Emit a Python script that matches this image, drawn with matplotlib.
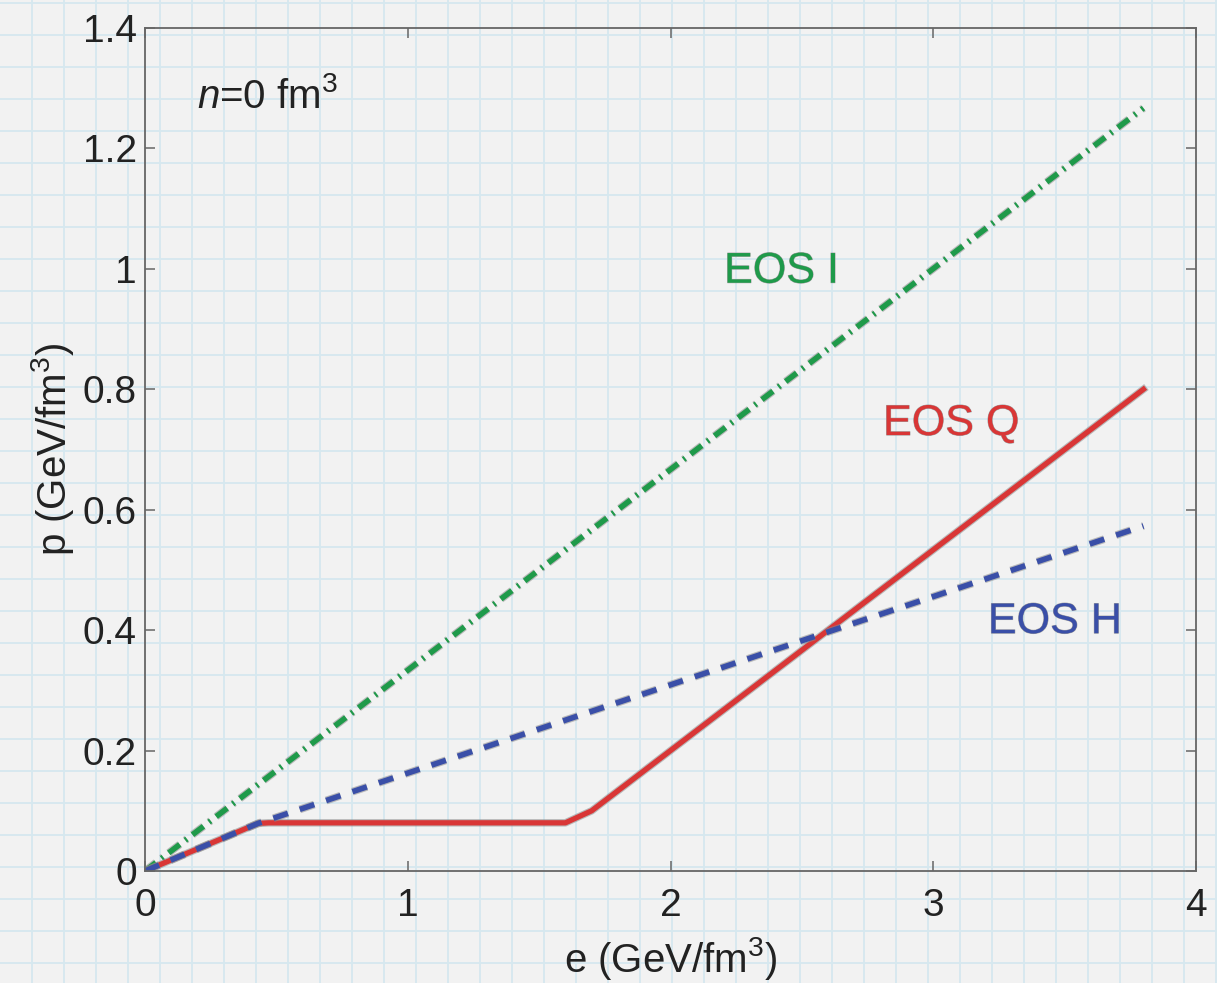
import matplotlib.pyplot as plt
import matplotlib.patheffects as pe

plt.rcParams['font.family'] = 'Liberation Sans'
plt.rcParams['mathtext.fontset'] = 'custom'
plt.rcParams['mathtext.rm'] = 'Liberation Sans'
plt.rcParams['mathtext.it'] = 'Liberation Sans:italic'
plt.rcParams['lines.scale_dashes'] = False

# equations of state, p(e)
e_I = [0.0, 3.8]
p_I = [0.0, 1.267]

e_H = [0.0, 0.43, 3.8]
p_H = [0.0, 0.079, 0.573]

e_Q = [0.0, 0.43, 0.47, 1.6, 1.7, 3.8]
p_Q = [0.0, 0.079, 0.08, 0.08, 0.1, 0.8]

x_ticks = [0, 1, 2, 3, 4]
y_ticks = [0, 0.2, 0.4, 0.6, 0.8, 1, 1.2, 1.4]
y_ticklabels = ['0', '0.2', '0.4', '0.6', '0.8', '1', '1.2', '1.4']

green = '#1f9a4a'
red = '#d93636'
blue = '#3a4fa8'

W, H = 1217, 983
fig = plt.figure(figsize=(W / 100, H / 100), dpi=100)
fig.patch.set_facecolor('#f2f2f2')

# graph paper behind everything
bg = fig.add_axes([0, 0, 1, 1], zorder=0)
bg.set_xlim(0, W)
bg.set_ylim(H, 0)
bg.axis('off')
for x in range(32, W, 32):
    bg.axvline(x, color='#d6e8ef', lw=1.3)
for y in range(3, H, 32):
    bg.axhline(y, color='#d6e8ef', lw=1.3)

ax = fig.add_axes([145 / W, 1 - 871 / H, (1196 - 145) / W, (871 - 28) / H], zorder=1)
ax.set_facecolor('none')

halo = lambda lw: [pe.Stroke(linewidth=lw + 1.6, foreground='#8a8a8a', alpha=0.55), pe.Normal()]

ax.plot(e_I, p_I, color=green, lw=4, dashes=(10, 5, 1.5, 5), path_effects=halo(4))
ax.plot(e_Q, p_Q, color=red, lw=3.8, solid_joinstyle='round', path_effects=halo(3.8))
ax.plot(e_H, p_H, color=blue, lw=4, dashes=(11, 9), path_effects=halo(4))

txt_fx = [pe.withStroke(linewidth=0.7, foreground='#a0a0a0')]
ax.text(2.204, 0.977, 'EOS I', color=green, fontsize=31, va='baseline', path_effects=txt_fx)
ax.text(2.809, 0.724, 'EOS Q', color=red, fontsize=31, va='baseline', path_effects=txt_fx)
ax.text(3.208, 0.395, 'EOS H', color=blue, fontsize=31, va='baseline', path_effects=txt_fx)
ax.text(0.198, 1.267, r'$n$=0 fm$^3$', color='#222222', fontsize=29, va='baseline')

ax.set_xlim(0, 4)
ax.set_ylim(0, 1.4)
ax.set_xticks(x_ticks)
ax.set_yticks(y_ticks)
ax.set_yticklabels(y_ticklabels)
ax.tick_params(direction='in', length=7, width=1.1, color='#666666', labelsize=28,
               labelcolor='#222222', top=True, right=True)
ax.tick_params(axis='x', pad=12)
ax.tick_params(axis='y', pad=6)
for s in ax.spines.values():
    s.set_color('#666666')
    s.set_linewidth(1.3)

ax.set_xlabel(r'e (GeV/fm$^3$)', fontsize=29, color='#222222', labelpad=8)
ax.set_ylabel(r'p (GeV/fm$^3$)', fontsize=29, color='#222222')
ax.yaxis.set_label_coords(-0.066, 0.5)

fig.savefig('out.png', dpi=100, facecolor=fig.get_facecolor())
